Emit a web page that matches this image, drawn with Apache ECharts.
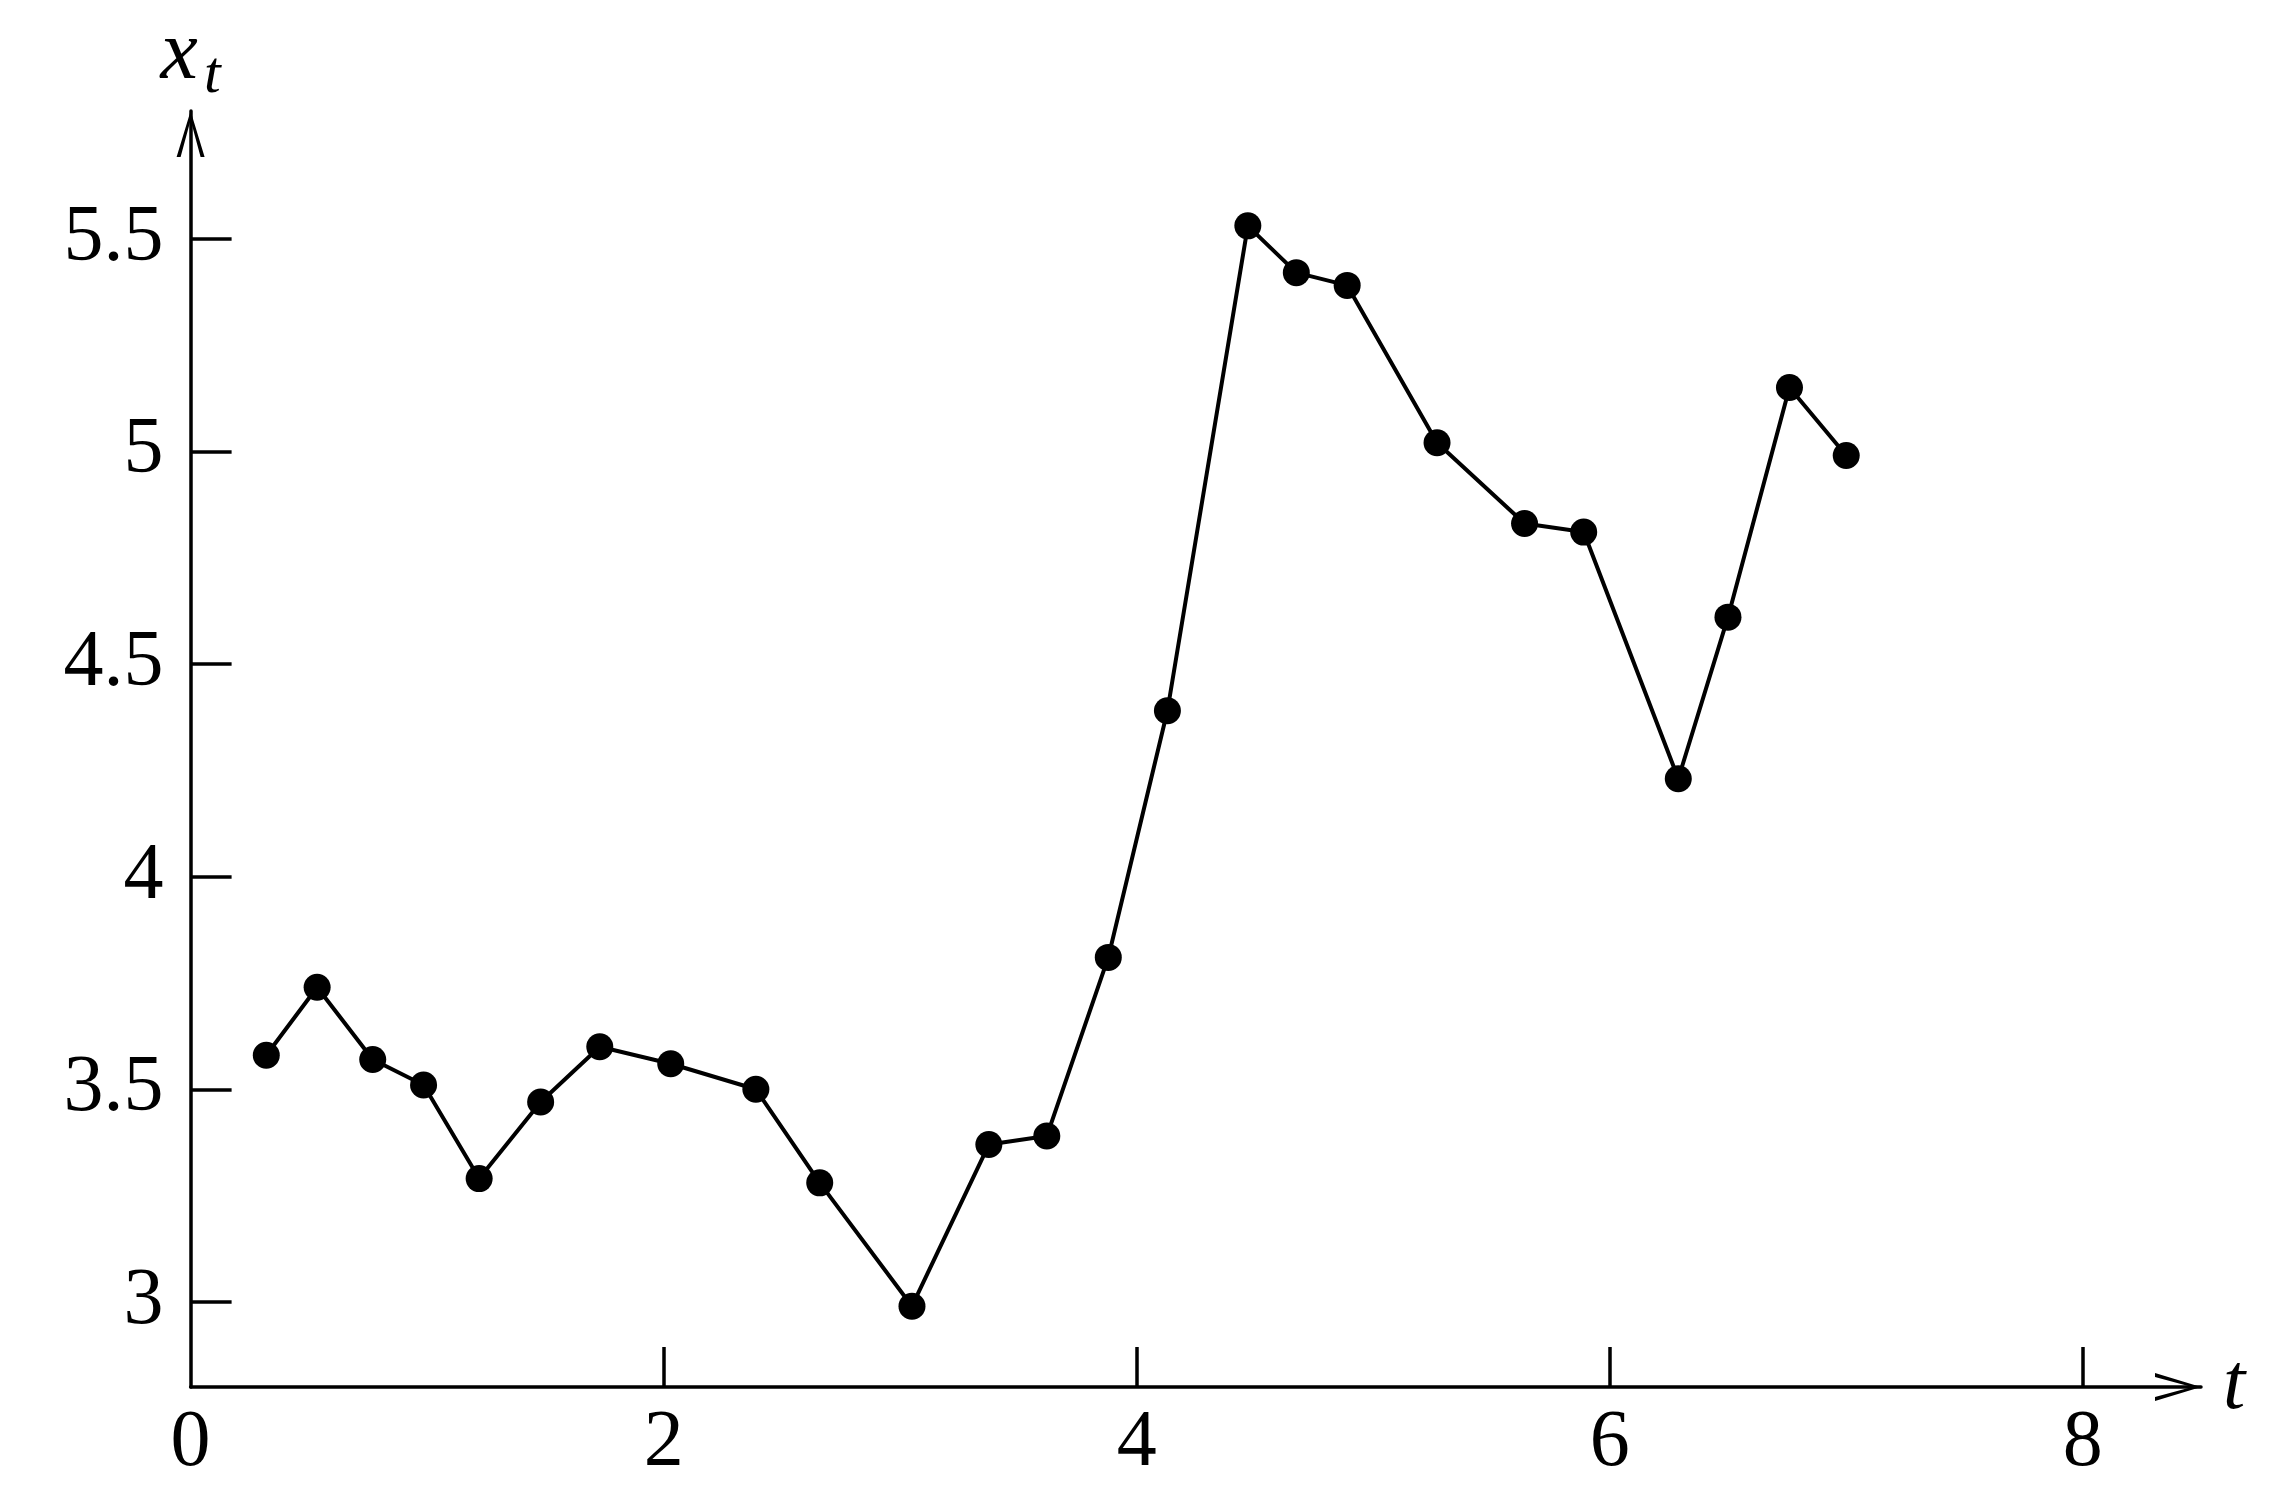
<!DOCTYPE html>
<html>
<head>
<meta charset="utf-8">
<script src="https://cdn.jsdelivr.net/npm/echarts@6/dist/echarts.min.js"></script>
<style>
html,body{margin:0;padding:0;background:#fff;}
#main{width:2279px;height:1504px;}
</style>
</head>
<body>
<div id="main"></div>
<script>
// sample times and values
var tValues = [0.32, 0.535, 0.77, 0.985, 1.22, 1.48, 1.73, 2.03, 2.39, 2.66, 3.05, 3.375, 3.62,
               3.88, 4.13, 4.47, 4.675, 4.89, 5.27, 5.64, 5.89, 6.29, 6.50, 6.76, 7.00];
var xValues = [3.58, 3.74, 3.57, 3.51, 3.29, 3.47, 3.60, 3.56, 3.50, 3.28, 2.99, 3.37, 3.39,
               3.81, 4.39, 5.53, 5.42, 5.39, 5.02, 4.83, 4.81, 4.23, 4.61, 5.15, 4.99];
var tTicks = [0, 2, 4, 6, 8];
var xTicks = [3, 3.5, 4, 4.5, 5, 5.5];

var serif = '"Liberation Serif", "DejaVu Serif", serif';
// open arrow head like the LaTeX one (tip at top, rotated by the axis)
var arrowHead = 'path://M14,0 L28,46 L24,46 L14,9 L4,46 L0,46 Z';

var points = tValues.map(function(t, i){ return [t, xValues[i]]; });

var myChart = echarts.init(document.getElementById('main'));
myChart.setOption({
    animation: false,
    backgroundColor: '#fff',
    grid: {
        left: 190.6,
        right: 78,
        top: 111,
        bottom: 117
    },
    xAxis: {
        type: 'value',
        min: 0,
        max: 8.5,
        name: 't',
        nameLocation: 'end',
        nameGap: 22,
        nameTextStyle: { fontFamily: serif, fontStyle: 'italic', fontSize: 80, color: '#000' },
        axisLine: {
            show: true,
            lineStyle: { color: '#000', width: 3.5 },
            symbol: ['none', arrowHead],
            symbolSize: [28, 46],
            symbolOffset: [0, -23]
        },
        axisTick: {
            show: true,
            inside: true,
            length: 40,
            lineStyle: { color: '#000', width: 3.5 },
            customValues: tTicks.slice(1)
        },
        axisLabel: {
            fontFamily: serif,
            fontSize: 80,
            color: '#000',
            margin: 17,
            customValues: tTicks
        },
        splitLine: { show: false }
    },
    yAxis: {
        type: 'value',
        min: 2.8,
        max: 5.8,
        name: '{x|x}{s|t}',
        nameLocation: 'end',
        nameGap: 13,
        nameTextStyle: {
            color: '#000',
            rich: {
                x: { fontFamily: serif, fontStyle: 'italic', fontSize: 84, lineHeight: 84, color: '#000' },
                s: { fontFamily: serif, fontStyle: 'italic', fontSize: 60, lineHeight: 60, color: '#000', padding: [40, 0, 0, 6] }
            }
        },
        axisLine: {
            show: true,
            lineStyle: { color: '#000', width: 3.5 },
            symbol: ['none', arrowHead],
            symbolSize: [28, 46],
            symbolOffset: [0, -23]
        },
        axisTick: {
            show: true,
            inside: true,
            length: 41,
            lineStyle: { color: '#000', width: 3.5 },
            customValues: xTicks
        },
        axisLabel: {
            fontFamily: serif,
            fontSize: 80,
            color: '#000',
            margin: 27,
            customValues: xTicks
        },
        splitLine: { show: false }
    },
    series: [{
        type: 'line',
        data: points,
        symbol: 'circle',
        symbolSize: 27,
        showSymbol: true,
        itemStyle: { color: '#000' },
        lineStyle: { color: '#000', width: 4 }
    }]
});
</script>
</body>
</html>
